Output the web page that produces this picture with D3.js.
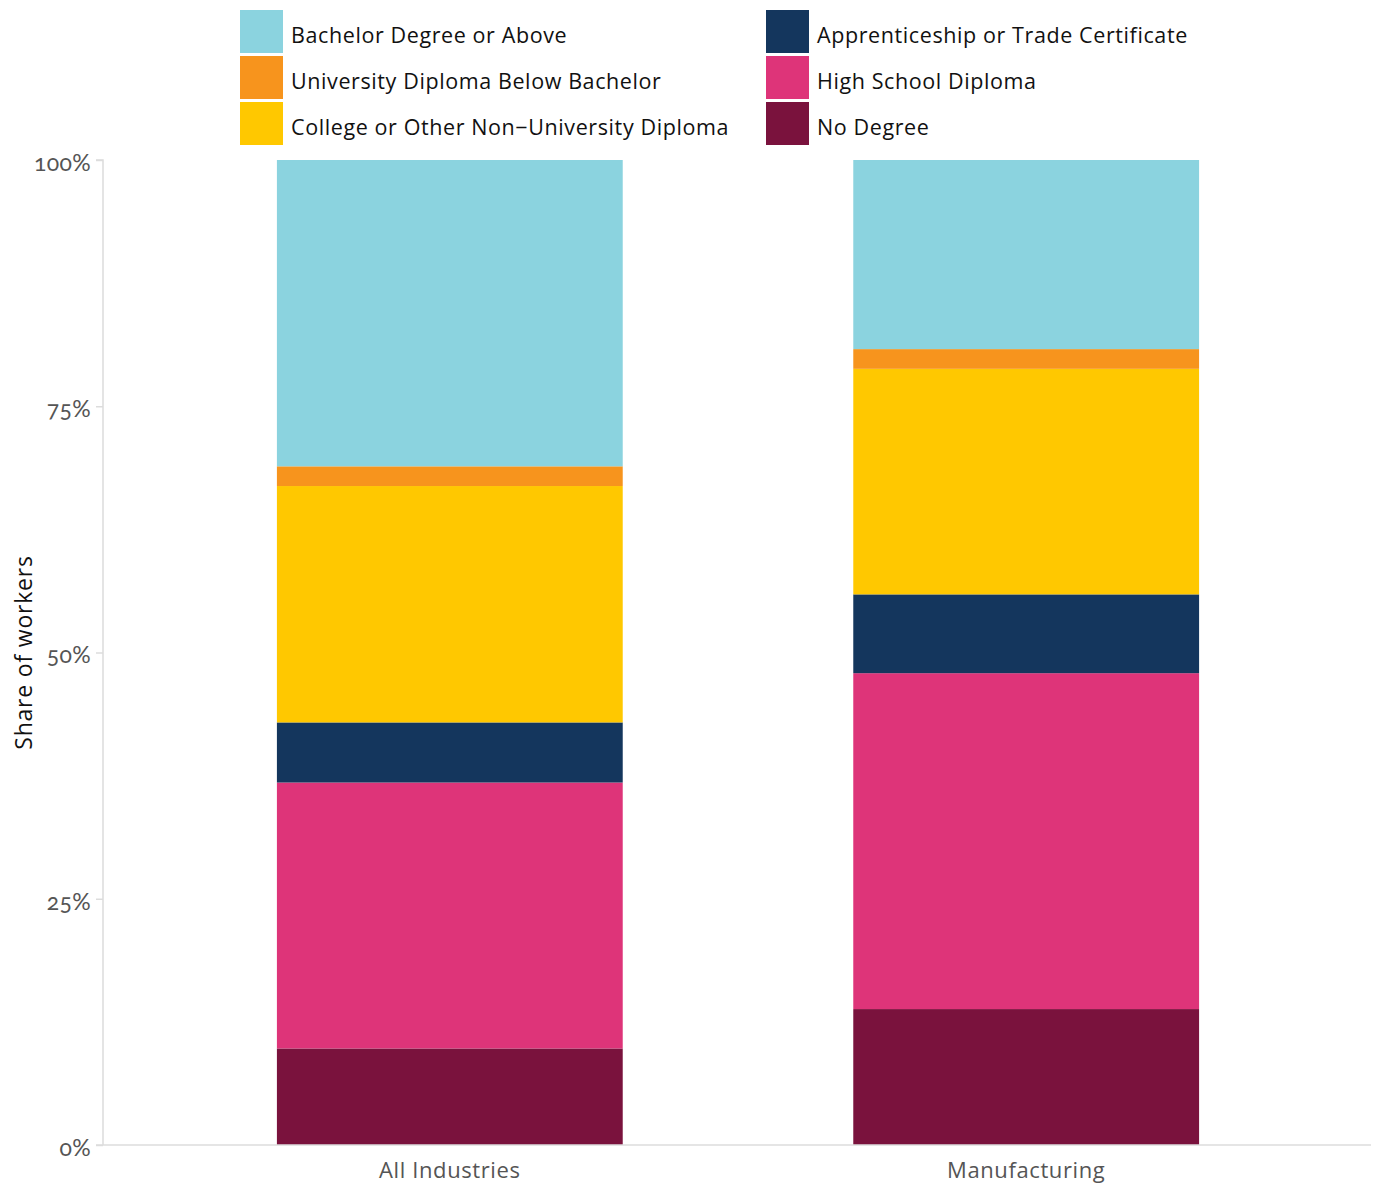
<!DOCTYPE html>
<html>
<head>
<meta charset="utf-8">
<script src="https://cdn.jsdelivr.net/npm/d3@7"></script>
<style>
  body { margin: 0; background: #fff; }
  svg { display: block; font-family: "Open Sans", "Noto Sans", sans-serif; }
</style>
</head>
<body>
<svg id="chart" width="1376" height="1188"></svg>
<script>
// Industries shown as stacked bars
const industries = ["All Industries", "Manufacturing"];

// Education levels, bottom of the stack first
const levels = [
  "No Degree",
  "High School Diploma",
  "Apprenticeship or Trade Certificate",
  "College or Other Non\u2212University Diploma",
  "University Diploma Below Bachelor",
  "Bachelor Degree or Above"
];

// Share of workers (%) per level, in the same order as `levels`
const allIndustriesShares = [9.8, 27.0, 6.1, 24.0, 2.0, 31.1];
const manufacturingShares = [13.8, 34.1, 8.0, 22.9, 2.0, 19.2];

const levelColors = ["#7A123D", "#DE3479", "#14365D", "#FFC800", "#F7941D", "#8BD3DF"];

// Legend layout order (column by column)
const legendLeft = [
  "Bachelor Degree or Above",
  "University Diploma Below Bachelor",
  "College or Other Non\u2212University Diploma"
];
const legendRight = [
  "Apprenticeship or Trade Certificate",
  "High School Diploma",
  "No Degree"
];

const yTicks = [0, 25, 50, 75, 100];

// Build rows for the stack layout
const rows = industries.map((name, i) => {
  const vals = i === 0 ? allIndustriesShares : manufacturingShares;
  const row = { industry: name };
  levels.forEach((lv, j) => { row[lv] = vals[j]; });
  return row;
});

const svg = d3.select("#chart");
const margin = { left: 103, right: 6, top: 160, bottom: 43 };
const W = 1376, H = 1188;

const x = d3.scaleBand()
  .domain(industries)
  .range([104, W - 4])
  .paddingInner(0.4)
  .paddingOuter(0.3);

const y = d3.scaleLinear()
  .domain([0, 100])
  .range([H - margin.bottom, margin.top]);

const color = d3.scaleOrdinal().domain(levels).range(levelColors);

const series = d3.stack().keys(levels)(rows);

// Bars
svg.append("g")
  .selectAll("g")
  .data(series)
  .join("g")
  .attr("fill", d => color(d.key))
  .selectAll("rect")
  .data(d => d)
  .join("rect")
  .attr("x", d => x(d.data.industry))
  .attr("width", x.bandwidth())
  .attr("y", d => y(d[1]))
  .attr("height", d => y(d[0]) - y(d[1]));

// Y axis
const yAxis = svg.append("g")
  .attr("transform", `translate(${margin.left},0)`)
  .call(d3.axisLeft(y).tickValues(yTicks).tickFormat(d => d + "%").tickSize(7).tickPadding(5));
yAxis.select(".domain").attr("stroke", "#dcdcdc").attr("stroke-width", 1.5)
  .attr("d", `M-7,${y(100)}H0V${y(0)}`);
yAxis.selectAll(".tick line").attr("stroke", "#dcdcdc").attr("stroke-width", 1.5);
yAxis.selectAll(".tick text")
  .attr("fill", "#555")
  .attr("font-size", 23)
  .attr("dy", "0.45em")
  .attr("font-family", "Lato, sans-serif")
  .style("font-feature-settings", "'onum' 1")
  .style("font-variant-numeric", "oldstyle-nums")
  .style("letter-spacing", "0.3px");

// X axis
const xAxis = svg.append("g")
  .attr("transform", `translate(0,${y(0)})`)
  .call(d3.axisBottom(x).tickSize(0).tickPadding(17));
xAxis.select(".domain").attr("stroke", "#dcdcdc").attr("stroke-width", 1.5)
  .attr("d", `M${margin.left - 7},0H${W - 5}`);
xAxis.selectAll(".tick text")
  .attr("fill", "#555")
  .attr("font-size", 22)
  .attr("font-family", "'Open Sans', sans-serif")
  .style("letter-spacing", "0.6px");

// Y axis title
svg.append("text")
  .attr("transform", `translate(32,${(y(0) + y(100)) / 2}) rotate(-90)`)
  .attr("text-anchor", "middle")
  .attr("font-size", 23)
  .attr("fill", "#111")
  .style("letter-spacing", "0.8px")
  .text("Share of workers");

// Legend
const legendCols = [
  { items: legendLeft, x: 240 },
  { items: legendRight, x: 766 }
];
legendCols.forEach(col => {
  const g = svg.append("g");
  col.items.forEach((name, i) => {
    const top = 10 + i * 46;
    g.append("rect")
      .attr("x", col.x).attr("y", top)
      .attr("width", 43).attr("height", 43)
      .attr("fill", color(name));
    g.append("text")
      .attr("x", col.x + 51).attr("y", top + 24)
      .attr("dominant-baseline", "central")
      .attr("font-size", 21.5)
      .attr("fill", "#111")
      .style("letter-spacing", "0.6px")
      .text(name);
  });
});
</script>
</body>
</html>
